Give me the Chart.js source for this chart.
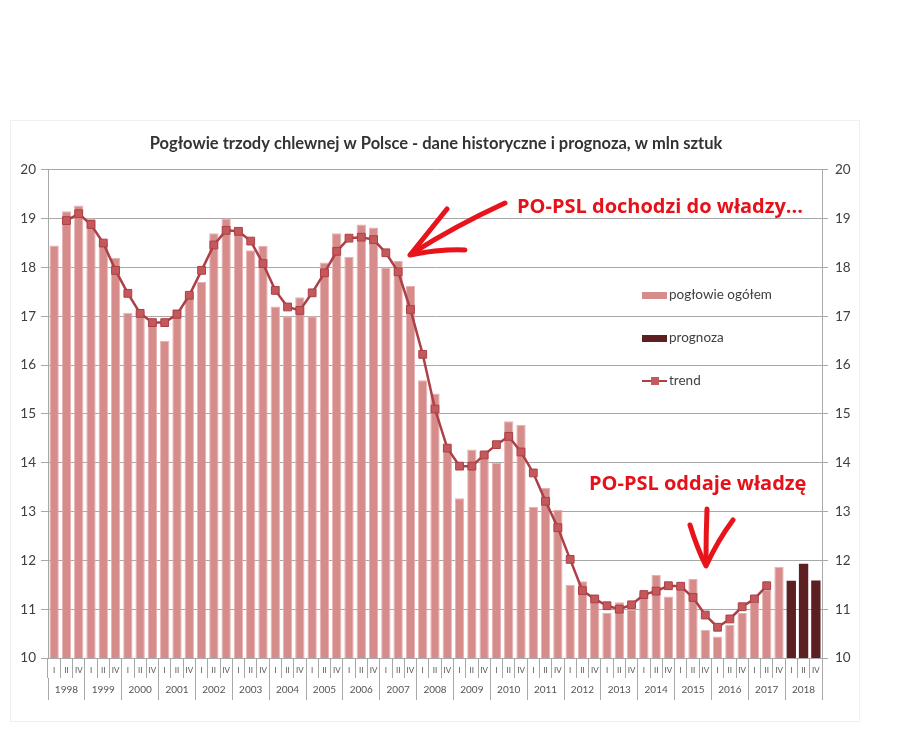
<!DOCTYPE html>
<html lang="pl">
<head>
<meta charset="utf-8">
<title>Pogłowie trzody chlewnej w Polsce</title>
<script src="https://cdn.jsdelivr.net/npm/chart.js@4.4.1/dist/chart.umd.min.js"></script>
<style>
    body { margin: 0; background: #fff; }
    #wrap { position: relative; width: 900px; height: 733px; overflow: hidden; }
    #frame { position: absolute; left: 10px; top: 120px; width: 848px; height: 600px; border: 1px solid #f0f0f0; }
    canvas { position: absolute; left: 0; top: 0; }
    .note { position: absolute; font-family: "Open Sans", sans-serif; font-weight: bold; font-size: 20px; line-height: 22px; color: #e5121a; white-space: nowrap; }
    svg { position: absolute; left: 0; top: 0; pointer-events: none; }
</style>
</head>
<body>
<div id="wrap">
    <div id="frame"></div>
    <canvas id="pigChart" width="900" height="733"></canvas>
    <div class="note" style="left:517px; top:195px;">PO-PSL dochodzi do władzy...</div>
    <div class="note" style="left:589px; top:472px;">PO-PSL oddaje władzę</div>
    <svg width="900" height="733">
        <g fill="none" stroke="#e8141b" stroke-width="5" stroke-linecap="round" stroke-linejoin="round">
            <path d="M505 203 Q455 226 411 254"/>
            <path d="M447 209 Q430 230 410 255 Q440 249 465 250"/>
            <path d="M707 509 Q706 535 706 558"/>
            <path d="M690 525 Q697 548 706 566 Q718 540 733 520"/>
        </g>
    </svg>
</div>

<script>
const years = ["1998","1999","2000","2001","2002","2003","2004","2005","2006","2007",
               "2008","2009","2010","2011","2012","2013","2014","2015","2016","2017","2018"];
const quarters = ["I", "II", "IV"];

// pogłowie ogółem, mln sztuk (1998 I ... 2017 IV)
const herd = [
    18.45, 19.15, 19.27,  19.0, 18.5, 18.2,   17.07, 17.1, 16.85,  16.5, 17.15, 17.45,
    17.7, 18.7, 19.0,     18.82, 18.35, 18.44, 17.2, 17.0, 17.39,  17.0, 18.1, 18.7,
    18.22, 18.88, 18.82,  18.0, 18.13, 17.62,  15.69, 15.42, 14.25, 13.27, 14.27, 14.22,
    14.0, 14.85, 14.78,   13.1, 13.48, 13.03,  11.5, 11.57, 11.25,  10.92, 11.14, 11.0,
    11.33, 11.7, 11.26,   11.5, 11.62, 10.58,  10.44, 10.68, 10.92, 11.13, 11.4, 11.87
];

// prognoza 2018
const forecast = [11.58, 11.93, 11.59];

// trend (1998 II ... 2017 II)
const trend = [
    18.96, 19.1, 18.88, 18.5, 17.94, 17.47, 17.06, 16.87, 16.87, 17.04, 17.43, 17.94,
    18.46, 18.76, 18.74, 18.54, 18.08, 17.53, 17.19, 17.12, 17.48, 17.89, 18.33, 18.6,
    18.62, 18.57, 18.3, 17.91, 17.14, 16.22, 15.1, 14.3, 13.93, 13.93, 14.16, 14.37,
    14.54, 14.22, 13.79, 13.21, 12.67, 12.02, 11.38, 11.21, 11.07, 11.0, 11.09, 11.3,
    11.37, 11.48, 11.47, 11.24, 10.88, 10.63, 10.8, 11.05, 11.21, 11.48
];

const labels = [];
years.forEach(() => quarters.forEach(q => labels.push(q)));

const total = labels.length;
const herdData = herd.concat(new Array(total - herd.length).fill(null));
const forecastData = new Array(total - forecast.length).fill(null).concat(forecast);
const trendData = [null].concat(trend);
while (trendData.length < total) trendData.push(null);

const gridGray = "#a8a8a8";
const textGray = "#404040";

// legenda w środku wykresu, jak w oryginale
const insideLegend = {
    id: "insideLegend",
    afterDatasetsDraw(chart) {
        const ctx = chart.ctx;
        const ds = chart.data.datasets;
        const x = 642, rows = [295, 338, 381];
        ctx.save();
        ctx.font = "13.5px Lato, sans-serif";
        ctx.textBaseline = "middle";
        ds.forEach((d, i) => {
            const y = rows[i];
            if (d.type === "line") {
                ctx.strokeStyle = d.borderColor;
                ctx.lineWidth = 2;
                ctx.beginPath();
                ctx.moveTo(x, y);
                ctx.lineTo(x + 25, y);
                ctx.stroke();
                ctx.fillStyle = d.pointBackgroundColor;
                ctx.fillRect(x + 9, y - 4, 8, 8);
            } else {
                ctx.fillStyle = d.backgroundColor;
                ctx.fillRect(x, y - 3, 25, 7);
            }
            ctx.fillStyle = textGray;
            ctx.fillText(d.label, x + 27, y);
        });
        ctx.restore();
    }
};

new Chart(document.getElementById("pigChart"), {
    type: "bar",
    data: {
        labels: labels,
        datasets: [
            {
                label: "pogłowie ogółem",
                data: herdData,
                backgroundColor: "#d68c8b",
                borderColor: "#e6b2b1",
                borderWidth: 1,
                grouped: false,
                barPercentage: 0.76,
                categoryPercentage: 1,
                order: 2
            },
            {
                label: "prognoza",
                data: forecastData,
                backgroundColor: "#5c1f22",
                grouped: false,
                barPercentage: 0.76,
                categoryPercentage: 1,
                order: 2
            },
            {
                type: "line",
                label: "trend",
                data: trendData,
                borderColor: "#ad3f47",
                borderWidth: 2.5,
                pointStyle: "rect",
                pointRadius: 5.5,
                pointBackgroundColor: "#c4595c",
                pointBorderColor: "#ad3f47",
                pointBorderWidth: 1,
                tension: 0,
                order: 1
            }
        ]
    },
    options: {
        responsive: false,
        animation: false,
        layout: { padding: { left: 10, right: 38, top: 120, bottom: 31 } },
        plugins: {
            legend: { display: false },
            tooltip: { enabled: false },
            title: {
                display: true,
                text: "Pogłowie trzody chlewnej w Polsce - dane historyczne i prognoza, w mln sztuk",
                color: "#333",
                font: { family: "Lato", size: 16.5, weight: "bold" },
                padding: { top: 14, bottom: 16 }
            }
        },
        scales: {
            x: {
                offset: true,
                weight: 0,
                grid: { display: true, offset: true, drawOnChartArea: false, tickLength: 20, color: gridGray },
                border: { display: true, color: gridGray },
                ticks: { autoSkip: false, maxRotation: 0, padding: -12, color: "#555", font: { family: "Lato", size: 8 } },
                afterFit: s => { s.height = 20; }
            },
            x2: {
                type: "category",
                labels: years,
                position: "bottom",
                offset: true,
                weight: 1,
                grid: { display: true, offset: true, drawOnChartArea: false, tickLength: 22, color: gridGray },
                border: { display: false },
                ticks: { autoSkip: false, maxRotation: 0, padding: -16, color: "#555", font: { family: "Lato", size: 10 } },
                afterFit: s => { s.height = 24; }
            },
            y: {
                min: 10,
                max: 20,
                ticks: { stepSize: 1, padding: 5, color: textGray, font: { family: "Lato", size: 13.5 } },
                grid: { color: gridGray, tickLength: 7 },
                border: { display: true, color: gridGray },
                afterFit: s => { s.width = 38; }
            },
            y2: {
                position: "right",
                min: 10,
                max: 20,
                ticks: { stepSize: 1, padding: 7, color: textGray, font: { family: "Lato", size: 13.5 } },
                grid: { drawOnChartArea: false, tickLength: 6, color: gridGray },
                border: { display: true, color: gridGray },
                afterFit: s => { s.width = 40; }
            }
        }
    },
    plugins: [insideLegend]
});
</script>
</body>
</html>
